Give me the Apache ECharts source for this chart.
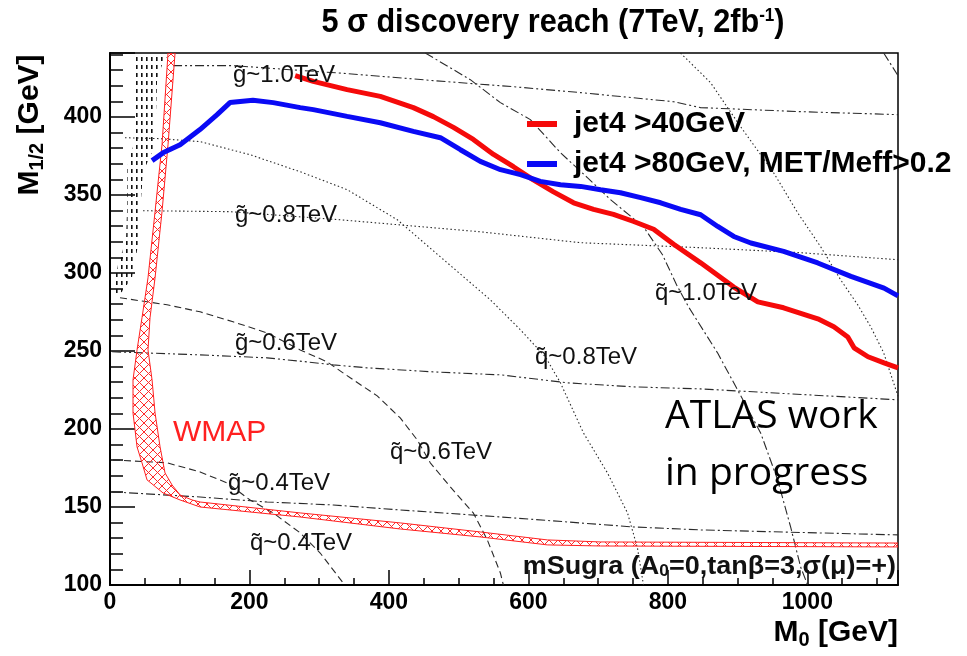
<!DOCTYPE html>
<html><head><meta charset="utf-8">
<script src="https://cdn.jsdelivr.net/npm/echarts@6/dist/echarts.min.js"></script>
<style>html,body{margin:0;padding:0;background:#fff}#c{width:967px;height:656px}</style>
</head><body><div id="c"></div>
<script>
// ---------------- data ----------------
const xRange = [0, 1130];
const yRange = [100, 441];
const xLabelStep = 200;
const yLabelStep = 50;
const seriesNames = ['jet4 >40GeV', 'jet4 >80GeV, MET/Meff>0.2'];

const jet40 = [[265.5,426.5],[291.5,422.8],[340,417.5],[387.6,413.2],[435,406],[463.7,400.2],[492.5,393.3],[521,385.6],[550,376],[578.6,368.1],[607,359.7],[636,352],[664.8,345],[693.5,340.8],[722,337.6],[751,333],[779.6,328],[808.3,318.4],[847,306.5],[894.5,291],[929,281.5],[966,277.7],[1015,270.6],[1038,265.5],[1058,259],[1067,252],[1087,246.3],[1110,242.4],[1130,239.2]];
const jet80 = [[60.3,372],[76,377],[100.5,382.2],[129,391.9],[153.6,401.5],[172,409.2],[205,410.7],[234,409.2],[272.8,406],[291.5,404.7],[340,400.4],[387.6,396.3],[435,390.8],[473.8,386.7],[502.5,379],[531,371.5],[560,366.2],[588.7,363],[617,358.7],[646,356.6],[674.8,355.5],[703.5,353.4],[732,351.4],[761,348.3],[789.7,345],[818.4,340.8],[847,337.3],[871.5,329.8],[894.5,323.4],[919,319.2],[966,313.8],[1015,306.4],[1062.5,297.8],[1110,290.3],[1130,285.3]];

const wmapLower = [[83.2,441],[74.6,382.2],[64.6,339.3],[54.5,296.9],[45.9,271.3],[38.8,250.7],[33,231.5],[33,210.3],[38.8,188.5],[45.9,178.3],[53.1,167.4],[76.1,159],[100.5,154.5],[129.2,150],[272.7,143.6],[416.2,135.9],[531.1,130.8],[627.2,125.7],[703.3,125],[1130,124.4]];
const wmapUpper = [[93.3,441],[83.2,382.2],[74.6,339.3],[64.6,296.9],[57.4,271.3],[54.5,250.7],[60.3,231.5],[64.6,210.3],[71.8,188.5],[78.9,171.8],[89,164.1],[100.5,157.7],[117.7,154.5],[129.2,153.2],[272.7,146.2],[416.2,139.8],[531.1,134],[627.2,128.9],[703.3,127.6],[1130,126.9]];

const excludedRegion = [[33,441],[86.1,441],[76.1,435.5],[67.5,423.9],[64.6,382.2],[57.4,374.5],[47.4,364.9],[43.1,339.3],[40.2,318.1],[31.6,296.9],[17.2,287.9],[4.3,284.1],[4.3,292.4],[11.5,305.3],[23,321.3],[24.4,339.3],[24.4,367.5],[31.6,379],[35.9,385.4],[34.4,411.1]];

const gluino10 = [[90.4,432.9],[176.5,432.9],[258.4,430.3],[340.2,427.8],[483.7,422.6],[578.4,419.4],[674.6,415.6],[808.1,409.8],[846.8,406],[990.4,403.4],[1130,401.5]];
const gluino08 = [[47.4,339.9],[172.2,339.3],[330.1,334.1],[531.1,326.4],[674.6,319.4],[846.8,316.2],[990.4,313],[1130,308.5]];
const gluino06 = [[3,249.5],[129.2,247.5],[225.3,245.6],[282.8,243],[320.1,241.1],[368.9,239.2],[463.6,236.6],[559.8,234.7],[655.9,229.6],[750.7,227],[846.8,225.7],[1130,218.7]];
const gluino04 = [[3,159.7],[129.2,156.4],[225.3,153.2],[320.1,151.3],[416.2,148.1],[559.8,143.6],[655.9,140.4],[750.7,137.2],[846.8,135.3],[1130,132.1]];
const squark04 = [[4.3,180.2],[81.8,178.3],[129.2,172.5],[167.9,165.4],[200.9,154.5],[234,146.2],[272.7,133.4],[301.4,120.5],[334.4,101.3],[336,100]];
const squark06 = [[14.4,284.1],[81.8,279.6],[129.2,275.1],[176.5,268.7],[225.3,261.6],[272.7,250.7],[311.5,243],[344.5,232.8],[383.2,221.2],[416.2,207.1],[440.6,193],[459.3,178.3],[488,162.9],[521,146.2],[541.1,128.9],[559.8,107.7],[564.1,100]];
const squark08 = [[21.5,386.7],[71.8,386.1],[129.2,384.2],[200.9,375.8],[272.7,364.9],[340.2,353.4],[412,334.1],[483.7,306.5],[545.4,282.8],[588.5,263.6],[624.4,246.2],[645.9,229.6],[678.9,197.5],[713.4,171.8],[742.1,146.2],[756.4,123.7],[765,100]];
const squark10 = [[452.1,441],[516.7,423.9],[559.8,409.2],[602.8,398.3],[645.9,377.1],[684.6,361.1],[717.7,347],[765,329.6],[792.3,311.7],[812.4,292.4],[829.6,278.3],[871.2,248.8],[899.9,225.1],[933,197.5],[957.4,167.4],[976,137.2],[990.4,111.5],[1000.4,100]];
const squark12 = [[818.1,441],[861.2,422],[904.2,393.8],[951.6,364.3],[986.1,338.6],[1019.1,316.8],[1047.8,295.6],[1072.2,279.6],[1090.9,265.5],[1109.5,248.8],[1130,221]];
const squark14 = [[1109.5,441],[1130,426.5]];

// ---------------- styles ----------------
const RED = '#f50a0a', BLUE = '#0a0af5', INK = '#2a2a2a';
const DASHDOTDOT = [9,3,2,3,2,3];
const DASHDOT = [9,3,2,3];
const DOT = [1.5,2.5];
const DASH = [7,4];

function makeHatch(){
  const c = document.createElement('canvas'); c.width = 9; c.height = 9;
  const g = c.getContext('2d'); g.strokeStyle = '#ff2a2a'; g.lineWidth = 1;
  g.beginPath(); g.moveTo(0,0); g.lineTo(9,9); g.moveTo(9,0); g.lineTo(0,9); g.stroke();
  return c;
}
function makeDashes(){
  const c = document.createElement('canvas'); c.width = 5; c.height = 8;
  const g = c.getContext('2d'); g.fillStyle = '#111';
  g.fillRect(1,1,1.6,4);
  return c;
}

function contour(data, dash){
  return {type:'line', data:data, showSymbol:false, symbol:'none', silent:true, z:1,
    lineStyle:{color:INK, width:1.1, type:dash}, animation:false};
}
function polygon(pointsFn, fill, stroke, z){
  return {type:'custom', silent:true, z:z, animation:false, clip:true, data:[[0,100]],
    renderItem:function(params, api){
      const pts = pointsFn().map(p => api.coord(p));
      return {type:'polygon', shape:{points:pts}, style:{fill:fill, stroke:stroke, lineWidth:1}};
    }};
}

const chart = echarts.init(document.getElementById('c'), null, {renderer:'canvas'});
const hatch = {image: makeHatch(), repeat:'repeat'};
const dashes = {image: makeDashes(), repeat:'repeat'};

const LBL = {fontFamily:'Liberation Sans', fontSize:23, fontWeight:'bold', color:'#000'};
const annot = (txt, x, y) => ({type:'text', x:x, y:y, z:50, silent:true,
  style:{text:txt, fontFamily:'Liberation Sans', fontSize:24, fill:'#111', align:'left', verticalAlign:'middle'}});

const option = {
  animation:false,
  backgroundColor:'#fff',
  grid:{left:110, right:69, top:53, bottom:71, show:true, borderColor:'#000', borderWidth:1.5, backgroundColor:'transparent', outerBoundsMode:'none', containLabel:false},
  xAxis:[
    {type:'value', min:xRange[0], max:xRange[1], interval:50, position:'bottom',
     axisLine:{show:true, onZero:false, lineStyle:{color:'#000', width:2}},
     axisTick:{show:true, inside:true, length:7, lineStyle:{color:'#000', width:1.5}},
     splitLine:{show:false},
     axisLabel:Object.assign({margin:6, formatter:v => (v % xLabelStep === 0 ? String(v) : '')}, LBL)},
    {type:'value', min:xRange[0], max:xRange[1], interval:xLabelStep, position:'bottom',
     axisLine:{show:false, onZero:false}, axisTick:{show:true, inside:true, length:15, lineStyle:{color:'#000', width:1.5}},
     splitLine:{show:false}, axisLabel:{show:false}}
  ],
  yAxis:[
    {type:'value', min:yRange[0], max:yRange[1], interval:10, position:'left',
     axisLine:{show:true, onZero:false, lineStyle:{color:'#000', width:2}},
     axisTick:{show:true, inside:true, length:13, lineStyle:{color:'#000', width:1.5}},
     splitLine:{show:false},
     axisLabel:Object.assign({margin:8, formatter:v => (v % yLabelStep === 0 ? String(v) : '')}, LBL)},
    {type:'value', min:yRange[0], max:yRange[1], interval:yLabelStep, position:'left',
     axisLine:{show:false, onZero:false}, axisTick:{show:true, inside:true, length:25, lineStyle:{color:'#000', width:1.5}},
     splitLine:{show:false}, axisLabel:{show:false}}
  ],
  legend:{show:true, data:seriesNames, orient:'vertical', left:522, top:104, icon:'rect',
    itemWidth:30, itemHeight:6, itemGap:10, selectedMode:false,
    textStyle:{fontFamily:'Liberation Sans', fontWeight:'bold', fontSize:30, color:'#000', padding:[0,0,0,12]}},
  series:[
    polygon(() => excludedRegion, dashes, null, 2),
    contour(gluino10, DASHDOTDOT),
    contour(gluino08, DOT),
    contour(gluino06, DASHDOTDOT),
    contour(gluino04, DASHDOT),
    contour(squark04, DASH),
    contour(squark06, DASH),
    contour(squark08, DOT),
    contour(squark10, DASHDOT),
    contour(squark12, DOT),
    contour(squark14, DASHDOT),
    polygon(() => wmapLower.concat(wmapUpper.slice().reverse()), hatch, '#ff2020', 3),
    {name:seriesNames[0], type:'line', data:jet40, showSymbol:false, symbol:'none', z:5,
     itemStyle:{color:RED}, lineStyle:{color:RED, width:5}},
    {name:seriesNames[1], type:'line', data:jet80, showSymbol:false, symbol:'none', z:5,
     itemStyle:{color:BLUE}, lineStyle:{color:BLUE, width:5}}
  ],
  graphic:[
    {type:'text', x:553, y:23, scaleX:0.9, z:50, silent:true,
     style:{text:'5 σ discovery reach (7TeV, 2fb{sup|-1})', align:'center', verticalAlign:'middle',
       fontFamily:'Liberation Sans', fontWeight:'bold', fontSize:34, fill:'#000',
       rich:{sup:{fontFamily:'Liberation Sans', fontWeight:'bold', fontSize:19, verticalAlign:'top', padding:[0,0,14,0]}}}},
    {type:'text', x:30, y:125, rotation:Math.PI/2, z:50, silent:true,
     style:{text:'M{sub|1/2} [GeV]', align:'center', verticalAlign:'middle',
       fontFamily:'Liberation Sans', fontWeight:'bold', fontSize:30, fill:'#000',
       rich:{sub:{fontFamily:'Liberation Sans', fontWeight:'bold', fontSize:20, verticalAlign:'bottom', padding:[14,0,0,0]}}}},
    {type:'text', x:898, y:633, z:50, silent:true,
     style:{text:'M{sub|0} [GeV]', align:'right', verticalAlign:'middle',
       fontFamily:'Liberation Sans', fontWeight:'bold', fontSize:30, fill:'#000',
       rich:{sub:{fontFamily:'Liberation Sans', fontWeight:'bold', fontSize:20, verticalAlign:'bottom', padding:[14,0,0,0]}}}},
    {type:'text', x:896, y:567, scaleX:1.08, z:50, silent:true,
     style:{text:'mSugra (A{sub|0}=0,tanβ=3,σ(μ)=+)', align:'right', verticalAlign:'middle',
       fontFamily:'Liberation Sans', fontWeight:'bold', fontSize:25, fill:'#111',
       rich:{sub:{fontFamily:'Liberation Sans', fontWeight:'bold', fontSize:16, verticalAlign:'bottom', padding:[10,0,0,0]}}}},
    {type:'text', x:173, y:433, z:50, silent:true,
     style:{text:'WMAP', fontFamily:'Liberation Sans', fontSize:30, fill:'#ff2020', align:'left', verticalAlign:'middle'}},
    {type:'text', x:665, y:445, z:50, silent:true,
     style:{text:'ATLAS work\nin progress', fontFamily:'Open Sans', fontSize:39, lineHeight:57, fill:'#000', align:'left', verticalAlign:'middle'}},
    annot('g\u0303~1.0TeV', 233, 75),
    annot('g\u0303~0.8TeV', 235, 215),
    annot('g\u0303~0.6TeV', 235, 343),
    annot('g\u0303~0.4TeV', 228, 483),
    annot('q\u0303~0.4TeV', 250, 543),
    annot('q\u0303~0.6TeV', 390, 452),
    annot('q\u0303~0.8TeV', 535, 357),
    annot('q\u0303~1.0TeV', 655, 293)
  ]
};
chart.setOption(option);
</script>
</body></html>
